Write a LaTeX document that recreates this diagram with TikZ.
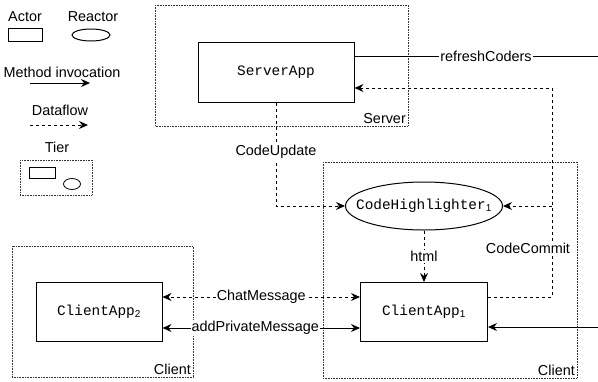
\documentclass[tikz,border=0pt]{standalone}
\usepackage{fontspec}
\setmainfont{Liberation Sans}
\setmonofont{Liberation Mono}
\usetikzlibrary{positioning}
\usetikzlibrary{calc}
\usetikzlibrary{arrows.meta}
\usetikzlibrary{shapes.geometric}
\newcommand{\idx}[1]{\textsubscript{\rmfamily #1}}

\begin{document}
\begin{tikzpicture}[x=1pt, y=-1pt, font={\fontsize{14.4}{17}\selectfont},
    >={Stealth[length=9pt, width=8pt, inset=3pt]},
    act/.style={draw, line width=1pt, rectangle, inner sep=0, font={\ttfamily\fontsize{14.4}{17}\selectfont}},
    react/.style={draw, line width=1pt, ellipse, inner sep=0, font={\ttfamily\fontsize{14.4}{17}\selectfont}},
    tier/.style={draw=black!80, line width=0.6pt, dash pattern=on 0.8pt off 0.8pt},
    call/.style={line width=1pt},
    flow/.style={line width=1pt, dash pattern=on 3pt off 3pt},
    lbl/.style={fill=white, inner sep=1pt}]
    \useasboundingbox (0,0) rectangle (598,381);
    % legend
    \node (actor) at (25,17) {Actor};
    \node[act, minimum width=34pt, minimum height=13pt] (actor_box) at (25,34.5) {};
    \node (reactor) at (93,17) {Reactor};
    \node[react, minimum width=38pt, minimum height=12pt] (reactor_box) at (91,35) {};
    \node (method) at (62,72) {Method invocation};
    \coordinate (m_a) at (30,83);
    \coordinate (m_b) at (90,83);
    \draw[call, ->] (m_a) -- (m_b);
    \node (dataflow) at (60,110) {Dataflow};
    \coordinate (d_a) at (30,125);
    \coordinate (d_b) at (88,125);
    \draw[flow, ->] (d_a) -- (d_b);
    \node (tier) at (57,147) {Tier};
    \draw[tier] (20,160) rectangle (92,195);
    \node[act, line width=0.8pt, minimum width=26pt, minimum height=11pt] (tier_box) at (42,172.5) {};
    \node[react, line width=0.8pt, minimum width=17pt, minimum height=11pt] (tier_ell) at (72,184) {};

    % tiers
    \draw[tier] (155,5) rectangle (408,126);
    \node[above left, inner sep=2pt] (server_lbl) at (408,126) {Server};
    \draw[tier] (12,246) rectangle (193,377);
    \node[above left, inner sep=2pt] (client_lbl_2) at (193,377) {Client};
    \draw[tier] (323,162) rectangle (577,378);
    \node[above left, inner sep=2pt] (client_lbl_1) at (577,378) {Client};

    % actors and reactors
    \node[act, minimum width=156pt, minimum height=60pt] (server) at (276,72) {ServerApp};
    \node[react, minimum width=157pt, minimum height=48pt] (hl_1) at (424,206) {\makebox[0pt]{CodeHighlighter\idx{1}}};
    \node[act, minimum width=127pt, minimum height=59pt] (client_1) at (424,312) {ClientApp\idx{1}};
    \node[act, minimum width=126pt, minimum height=59pt] (client_2) at (99,312) {ClientApp\idx{2}};

    % connections
    \coordinate (rc_end) at (598,56);
    \draw[call] ([yshift=16pt]server.east) -- node[lbl, pos=0.54] (rc_lbl) {refreshCoders} (rc_end);
    \coordinate (cc_top) at (552,88);
    \draw[flow, ->] ([yshift=15pt]client_1.east) -| (cc_top) -- ([yshift=-16pt]server.east);
    \draw[flow, ->] (cc_top |- hl_1.east) -- (hl_1.east);
    \node[lbl] (cc_lbl) at (528,248) {CodeCommit};
    \draw[flow, ->] (server.south) |- node[lbl, pos=0.24] (cu_lbl) {CodeUpdate} (hl_1.west);
    \draw[flow, ->] (hl_1.south) -- node[lbl] (html_lbl) {html} (client_1.north);
    \draw[flow, <->] ([yshift=15pt]client_1.west) -- node[lbl] (chat_lbl) {ChatMessage} ([yshift=15pt]client_2.east);
    \draw[call, <->] ([yshift=-16pt]client_1.west) -- node[lbl, pos=0.53] (apm_lbl) {addPrivateMessage} ([yshift=-16pt]client_2.east);
    \coordinate (in_start) at (598,327);
    \draw[call, ->] (in_start) -- ([yshift=-15pt]client_1.east);
\end{tikzpicture}
\end{document}
